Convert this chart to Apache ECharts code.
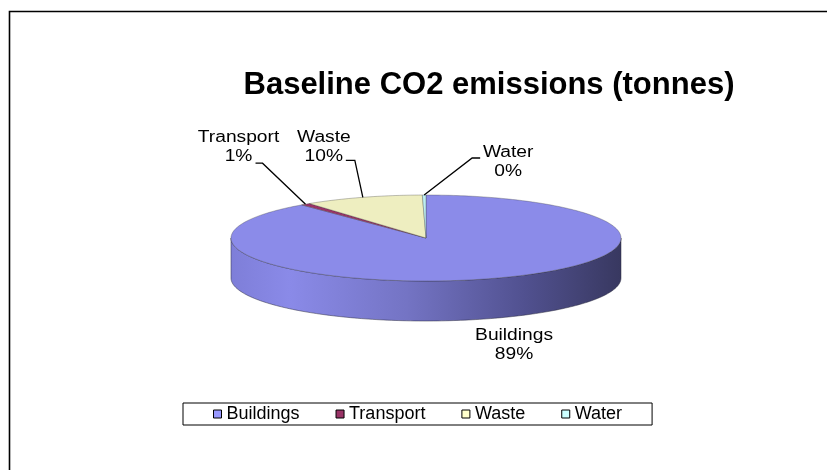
<!DOCTYPE html>
<html>
<head>
<meta charset="utf-8">
<title>Baseline CO2 emissions</title>
<script src="https://cdn.jsdelivr.net/npm/echarts@6/dist/echarts.min.js"></script>
<style>
  html, body { margin: 0; padding: 0; background: #fff; }
  #main { width: 827px; height: 470px; }
</style>
</head>
<body>
<div id="main"></div>
<script>
// data (share of tonnes, percent)
var categories = ['Buildings', 'Transport', 'Waste', 'Water'];
var values = [89.0, 0.8, 9.9, 0.3];

// colours: legend swatch colour and the shaded top-face colour
var legendColors = ['#9999FF', '#993366', '#FFFFCC', '#CCFFFF'];
var faceColors = ['#8B8BE9', '#993366', '#EEEEC0', '#BDEDF2'];

// pie geometry (flattened 3D look)
var CX = 426, CY = 238, RX = 195, RY = 43, DEPTH = 40;
var FONT = '"Liberation Sans", Arial, sans-serif';

// label placement relative to the slice anchor: [elbow, end of leader, text centre]
var labelLayout = [
    { leader: false, text: [22, 27] },
    { leader: true, elbow: [-43, -41], end: [-50, -41], text: [-67, -57] },
    { leader: true, elbow: [-8, -37], end: [-17, -37], text: [-39, -50] },
    { leader: true, elbow: [48, -37], end: [56, -37], text: [84, -33] }
];

var total = values.reduce(function (a, b) { return a + b; }, 0);

var pt = function (theta, dy) {
    return [CX + RX * Math.sin(theta), CY - RY * Math.cos(theta) + (dy || 0)];
};

var arc = function (a0, a1, dy) {
    var pts = [];
    var n = Math.max(2, Math.ceil(Math.abs(a1 - a0) / 0.02));
    for (var k = 0; k <= n; k++) {
        pts.push(pt(a0 + (a1 - a0) * k / n, dy));
    }
    return pts;
};

var sliceAngles = function (i) {
    var before = 0;
    for (var j = 0; j < i; j++) before += values[j];
    var start = before / total * Math.PI * 2;
    var end = (before + values[i]) / total * Math.PI * 2;
    return [start, end];
};

var sideGradient = new echarts.graphic.LinearGradient(0, 0, 1, 0, [
    { offset: 0, color: '#7e7ed8' },
    { offset: 0.15, color: '#8a8ae8' },
    { offset: 0.45, color: '#7474c4' },
    { offset: 0.75, color: '#515190' },
    { offset: 1, color: '#383860' }
]);

/************************************************************************************/
// description: 每个类别一个 custom 系列，画顶面、可见侧面、标签和引线
/************************************************************************************/
var makeSeries = function (i) {
    return {
        type: 'custom',
        name: categories[i],
        coordinateSystem: 'none',
        silent: true,
        itemStyle: { color: legendColors[i] },
        data: [values[i]],
        renderItem: function (params, api) {
            var ang = sliceAngles(i);
            var start = ang[0], end = ang[1];
            var children = [];

            // front side (only the half facing the viewer is visible)
            var s = Math.max(start, Math.PI / 2);
            var e = Math.min(end, Math.PI * 3 / 2);
            if (s < e) {
                var side = arc(s, e, 0).concat(arc(e, s, DEPTH));
                children.push({
                    type: 'polygon',
                    z2: 1,
                    shape: { points: side },
                    style: { fill: i === 0 ? sideGradient : faceColors[i], stroke: 'rgba(40,40,60,0.7)', lineWidth: 0.7 }
                });
            }

            // top face
            var top = [[CX, CY]].concat(arc(start, end, 0));
            children.push({
                type: 'polygon',
                z2: 2,
                shape: { points: top },
                style: { fill: faceColors[i], stroke: 'rgba(60,60,60,0.55)', lineWidth: 0.6 }
            });

            // label + leader
            var mid = (start + end) / 2;
            var lay = labelLayout[i];
            var anchor = lay.leader ? pt(mid, 0) : pt(mid, DEPTH);
            if (lay.leader) {
                children.push({
                    type: 'polyline',
                    z2: 3,
                    shape: { points: [
                        anchor,
                        [anchor[0] + lay.elbow[0], anchor[1] + lay.elbow[1]],
                        [anchor[0] + lay.end[0], anchor[1] + lay.end[1]]
                    ] },
                    style: { stroke: '#000', lineWidth: 1.3, fill: null }
                });
            }
            var pct = Math.round(values[i] / total * 100) + '%';
            children.push({
                type: 'text',
                z2: 4,
                x: anchor[0] + lay.text[0],
                y: anchor[1] + lay.text[1],
                scaleX: 1.2,
                style: {
                    text: categories[i] + '\n' + pct,
                    fontSize: 16,
                    fontFamily: FONT,
                    lineHeight: 19,
                    fill: '#000',
                    align: 'center',
                    verticalAlign: 'middle'
                }
            });

            return { type: 'group', children: children };
        }
    };
};

var seriesList = [];
for (var i = 0; i < categories.length; i++) {
    seriesList.push(makeSeries(i));
}

var myChart = echarts.init(document.getElementById('main'));
var option = {
    animation: false,
    backgroundColor: '#fff',
    title: {
        text: 'Baseline CO2 emissions (tonnes)',
        left: 484,
        top: 65,
        textAlign: 'center',
        textStyle: { fontFamily: FONT, fontSize: 31, fontWeight: 'bold', color: '#000' }
    },
    legend: {
        data: categories,
        left: 183,
        top: 403,
        orient: 'horizontal',
        icon: 'rect',
        itemWidth: 8,
        itemHeight: 8,
        itemGap: 36,
        padding: [2, 30, 2, 30],
        borderColor: '#000',
        borderWidth: 1,
        selectedMode: false,
        itemStyle: { borderColor: '#000', borderWidth: 1 },
        textStyle: { fontFamily: FONT, fontSize: 18, color: '#000' }
    },
    graphic: [
        {
            type: 'rect',
            shape: { x: 9.5, y: 11.5, width: 900, height: 600 },
            style: { fill: null, stroke: '#000', lineWidth: 1.6 },
            silent: true
        }
    ],
    series: seriesList
};
myChart.setOption(option);
</script>
</body>
</html>
